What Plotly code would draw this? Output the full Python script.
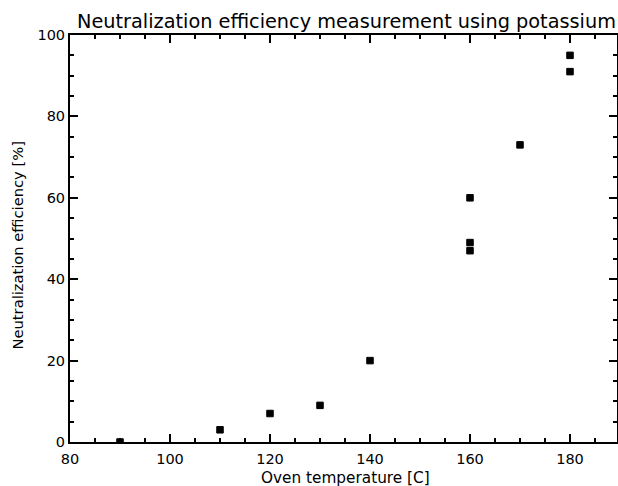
import plotly.graph_objects as go

temperature = [90, 110, 120, 130, 140, 160, 160, 160, 170, 180, 180]
efficiency = [0, 3, 7, 9, 20, 60, 49, 47, 73, 95, 91]

x_ticks = [80, 100, 120, 140, 160, 180]
y_ticks = [0, 20, 40, 60, 80, 100]

title_text = "Neutralization efficiency measurement using potassium"
x_title = "Oven temperature [C]"
y_title = "Neutralization efficiency [%]"

font_family = "DejaVu Sans"

W, H = 618, 486
ML, MR, MT, MB = 70, 1, 35, 44
PW, PH = W - ML - MR, H - MT - MB


def px_to_paper(px, py):
    return (px - ML) / PW, (H - MB - py) / PH


fig = go.Figure()
fig.add_trace(go.Scatter(
    x=temperature, y=efficiency, mode="markers",
    marker=dict(symbol="square", size=6.5, color="black",
                line=dict(color="black", width=1)),
    showlegend=False,
))

axis_common = dict(
    showgrid=False, zeroline=False, showline=True, linecolor="black", linewidth=2,
    ticks="inside", ticklen=8, tickwidth=2, tickcolor="black", mirror="allticks",
    tickfont=dict(family=font_family, size=14.5, color="black"),
    automargin=False,
)

fig.update_xaxes(
    range=[80, 189.4], tickmode="array", tickvals=x_ticks, ticktext=[str(v) for v in x_ticks],
    ticklabelstandoff=3,
    minor=dict(ticks="inside", ticklen=4, tickwidth=2, tickcolor="black", dtick=5, showgrid=False),
    **axis_common,
)
fig.update_yaxes(
    range=[0, 100], tickmode="array", tickvals=y_ticks, ticktext=[str(v) for v in y_ticks],
    minor=dict(ticks="inside", ticklen=4, tickwidth=2, tickcolor="black", dtick=5, showgrid=False),
    **axis_common,
)

tx, ty = px_to_paper(347, 21)
xx, xy = px_to_paper(345, 478)
yx, yy = px_to_paper(16.5, 246)

fig.update_layout(
    width=W, height=H,
    margin=dict(l=ML, r=MR, t=MT, b=MB),
    paper_bgcolor="white", plot_bgcolor="white",
    annotations=[
        dict(text=title_text, xref="paper", yref="paper", x=tx, y=ty,
             xanchor="center", yanchor="middle", showarrow=False,
             font=dict(family=font_family, size=19.3, color="black")),
        dict(text=x_title, xref="paper", yref="paper", x=xx, y=xy,
             xanchor="center", yanchor="middle", showarrow=False,
             font=dict(family=font_family, size=15.3, color="black")),
        dict(text=y_title, xref="paper", yref="paper", x=yx, y=yy,
             xanchor="center", yanchor="middle", showarrow=False, textangle=-90,
             font=dict(family=font_family, size=14.7, color="black")),
    ],
)

# Place the figure flush with the page corner, as in the reference.
fig.write_html("out.html", config={"displayModeBar": False},
               post_script="document.body.style.margin='0';")
